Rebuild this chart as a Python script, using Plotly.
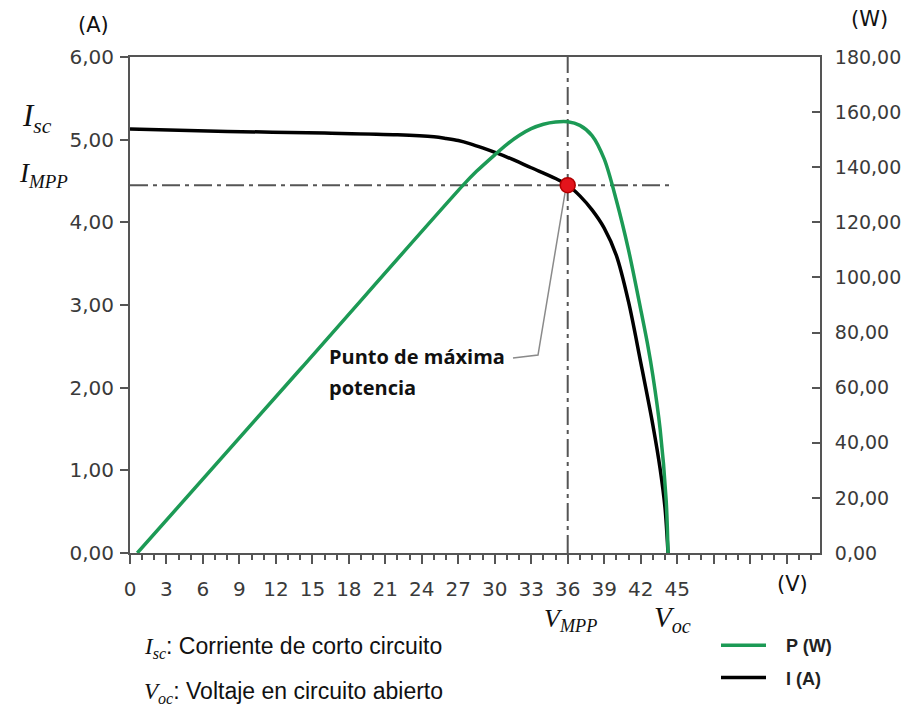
import plotly.graph_objects as go

# I-V curve of the module (voltage in V, current in A)
voltage_i = [0.0, 8.0, 16.0, 22.0, 25.0, 26.0, 27.0, 28.0, 29.0, 31.0, 33.0, 35.0, 36.0,
             37.0, 38.0, 39.0, 40.0, 41.0, 42.0, 43.0, 43.6, 44.0, 44.25]
current_a = [5.13, 5.10, 5.08, 5.06, 5.035, 5.015, 4.99, 4.95, 4.90, 4.79, 4.66, 4.53, 4.45,
             4.32, 4.15, 3.93, 3.60, 3.04, 2.31, 1.55, 1.02, 0.55, 0.0]

# P-V curve of the module (voltage in V, power in W)
voltage_p = [0.6, 13.95, 27.4, 28.5, 30.0, 31.0, 32.0, 33.0, 34.0, 35.0, 36.0,
             37.0, 38.0, 39.0, 40.0, 41.0, 42.0, 42.6, 43.0, 43.6, 44.1, 44.25]
power_w = [0.0, 66.4, 133.5, 138.5, 144.5, 148.3, 151.5, 154.0, 155.6, 156.4, 156.5,
           155.2, 151.5, 143.0, 128.0, 110.0, 88.5, 75.0, 64.5, 45.0, 19.0, 0.0]

# Maximum power point
v_mpp = 36.0
i_mpp = 4.45

# Axis ticks
x_tick_vals = [0, 3, 6, 9, 12, 15, 18, 21, 24, 27, 30, 33, 36, 39, 42, 45, 48, 51, 54]
x_tick_text = ["0", "3", "6", "9", "12", "15", "18", "21", "24", "27", "30",
               "33", "36", "39", "42", "45", "", "", ""]
i_tick_vals = [0, 1, 2, 3, 4, 5, 6]
i_tick_text = ["0,00", "1,00", "2,00", "3,00", "4,00", "5,00", "6,00"]
p_tick_vals = [0, 20, 40, 60, 80, 100, 120, 140, 160, 180]
p_tick_text = ["0,00", "20,00", "40,00", "60,00", "80,00", "100,00",
               "120,00", "140,00", "160,00", "180,00"]

W, H = 910, 706
ML, MR, MT, MB = 130, 90, 57, 153
PW, PH = W - ML - MR, H - MT - MB


def px(xpix):
    return (xpix - ML) / PW


def py(ypix):
    return (H - MB - ypix) / PH


AXIS = "#555555"
TICKFONT = dict(family="DejaVu Sans", size=20, color="#3a3a3a")
GREEN = "#1c9a55"
NBSP = "\u00a0"

fig = go.Figure()

fig.add_trace(go.Scatter(
    x=voltage_p, y=power_w, yaxis="y2", name=NBSP * 3 + "P (W)", mode="lines",
    line=dict(color=GREEN, width=3.5, shape="spline", smoothing=0.9),
    legendrank=1, legendgroup="p",
))
fig.add_trace(go.Scatter(
    x=voltage_i, y=current_a, name=NBSP * 3 + "I (A)", mode="lines",
    line=dict(color="#000000", width=3.5, shape="spline", smoothing=0.9),
    legendrank=2, legendgroup="i",
))
fig.add_trace(go.Scatter(
    x=[v_mpp], y=[i_mpp], mode="markers", showlegend=False,
    marker=dict(size=15, color="#e3141c", line=dict(color="#b00000", width=1.5)),
))

dash_style = dict(color="#555555", width=2, dash="18px,5px,4px,5px")
fig.add_shape(type="line", xref="x", yref="y", x0=v_mpp, x1=v_mpp, y0=0, y1=6,
              line=dash_style, layer="below")
fig.add_shape(type="line", xref="x", yref="y", x0=0, x1=44.4, y0=i_mpp, y1=i_mpp,
              line=dash_style, layer="below")

# Leader line from the label to the maximum power point
fig.add_shape(type="path", xref="paper", yref="paper",
              path=f"M {px(513)},{py(358)} L {px(538)},{py(355)} L {px(565)},{py(193)}",
              line=dict(color="#8a8a8a", width=1.5))

SERIF = "Liberation Serif"
annotations = [
    dict(text="(A)", x=px(93), y=py(25), font=dict(family="DejaVu Sans", size=21, color="#111")),
    dict(text="(W)", x=px(869), y=py(19), font=dict(family="DejaVu Sans", size=21, color="#111")),
    dict(text="(V)", x=px(792), y=py(584), font=dict(family="DejaVu Sans", size=21, color="#111")),
    dict(text="<i>I</i><sub><i>sc</i></sub>", x=px(37), y=py(118),
         font=dict(family=SERIF, size=31, color="#111")),
    dict(text="<i>I</i><sub><i>MPP</i></sub>", x=px(43), y=py(175),
         font=dict(family=SERIF, size=27, color="#111")),
    dict(text="<i>V</i><sub><i>MPP</i></sub>", x=px(570), y=py(620),
         font=dict(family=SERIF, size=26, color="#111")),
    dict(text="<i>V</i><sub><i>oc</i></sub>", x=px(672), y=py(619),
         font=dict(family=SERIF, size=29, color="#111")),
    dict(text="Punto de máxima", x=px(327), y=py(356), xanchor="left",
         font=dict(family="Open Sans", size=20, color="#111", weight="bold")),
    dict(text="potencia", x=px(327), y=py(387), xanchor="left",
         font=dict(family="Open Sans", size=20, color="#111", weight="bold")),
    dict(text=f"<i><span style='font-family:{SERIF}'>I</span></i>"
              f"<sub><i><span style='font-family:{SERIF}'>sc</span></i></sub>"
              ": Corriente de corto circuito",
         x=px(142), y=py(647), xanchor="left",
         font=dict(family="Liberation Sans", size=23, color="#111")),
    dict(text=f"<i><span style='font-family:{SERIF}'>V</span></i>"
              f"<sub><i><span style='font-family:{SERIF}'>oc</span></i></sub>"
              ": Voltaje en circuito abierto",
         x=px(142), y=py(692), xanchor="left",
         font=dict(family="Liberation Sans", size=23, color="#111")),
]
for a in annotations:
    a.setdefault("xanchor", "center")
    a.update(xref="paper", yref="paper", yanchor="middle", showarrow=False)

fig.update_layout(
    width=W, height=H,
    margin=dict(l=ML, r=MR, t=MT, b=MB, autoexpand=False),
    paper_bgcolor="white", plot_bgcolor="white",
    annotations=annotations,
    showlegend=True,
    legend=dict(
        x=px(716), y=py(627), xanchor="left", yanchor="top",
        font=dict(family="Liberation Sans", size=18, color="#222", weight="bold"),
        itemwidth=45, tracegroupgap=6, traceorder="grouped",
        bgcolor="rgba(0,0,0,0)",
    ),
    xaxis=dict(
        range=[0, 56.75], showgrid=False, zeroline=False,
        showline=True, linecolor=AXIS, linewidth=2, mirror=True,
        tickmode="array", tickvals=x_tick_vals, ticktext=x_tick_text,
        ticks="outside", ticklen=9, tickwidth=2, tickcolor=AXIS,
        minor=dict(dtick=1, ticks="outside", ticklen=5, tickwidth=1.5, tickcolor=AXIS),
        tickfont=TICKFONT, ticklabelstandoff=8,
    ),
    yaxis=dict(
        range=[0, 6], showgrid=False, zeroline=False,
        showline=True, linecolor=AXIS, linewidth=2,
        tickmode="array", tickvals=i_tick_vals, ticktext=i_tick_text,
        ticks="outside", ticklen=8, tickwidth=2, tickcolor=AXIS,
        tickfont=TICKFONT, ticklabelstandoff=2,
    ),
    yaxis2=dict(
        range=[0, 180], overlaying="y", side="right", showgrid=False, zeroline=False,
        showline=True, linecolor=AXIS, linewidth=2,
        tickmode="array", tickvals=p_tick_vals, ticktext=p_tick_text,
        ticks="inside", ticklen=8, tickwidth=2, tickcolor=AXIS,
        tickfont=dict(family="DejaVu Sans", size=19, color="#3a3a3a"),
        ticklabelstandoff=9,
    ),
)

fig.write_html("out.html")
